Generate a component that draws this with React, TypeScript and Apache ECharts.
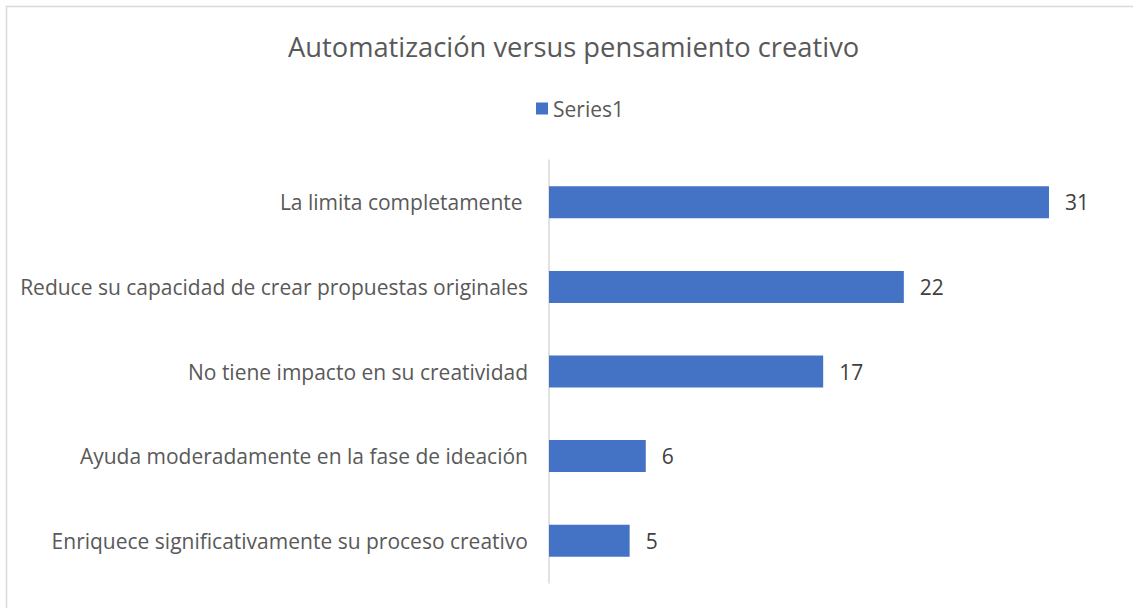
import React, { useEffect, useRef } from "react";
import * as echarts from "echarts";

const titleText = "Automatización versus pensamiento creativo";
const seriesName = "Series1";
const categories = [
  "La limita completamente ",
  "Reduce su capacidad de crear propuestas originales",
  "No tiene impacto en su creatividad",
  "Ayuda moderadamente en la fase de ideación",
  "Enriquece significativamente su proceso creativo",
];
const values = [31, 22, 17, 6, 5];

const FONT = "'Open Sans', 'Noto Sans', sans-serif";

export default function App() {
  const ref = useRef<HTMLDivElement>(null);
  useEffect(() => {
    document.body.style.margin = "0";
    const chart = echarts.init(ref.current!, undefined, { renderer: "svg" });
    chart.setOption({
      animation: false,
      backgroundColor: "#ffffff",
      title: {
        text: titleText,
        left: 283,
        top: 28,
        textStyle: { fontFamily: FONT, fontSize: 27.3, fontWeight: "normal", color: "#595959" },
      },
      legend: {
        data: [seriesName],
        top: 93,
        left: 531,
        itemWidth: 12,
        itemHeight: 12,
        itemGap: 6,
        icon: "rect",
        textStyle: { fontFamily: FONT, fontSize: 21, color: "#595959" },
      },
      graphic: [
        {
          type: "rect",
          shape: { x: 6.5, y: 6.5, width: 1200, height: 700 },
          style: { fill: "none", stroke: "#d9d9d9", lineWidth: 1.5 },
          silent: true,
        },
      ],
      grid: { left: 549, top: 160, bottom: 25, right: 19.5, containLabel: false },
      xAxis: {
        type: "value",
        min: 0,
        max: 35,
        show: false,
        splitLine: { show: false },
      },
      yAxis: {
        type: "category",
        data: categories,
        inverse: true,
        axisLine: { show: true, lineStyle: { color: "#d9d9d9", width: 1.5 } },
        axisTick: { show: false },
        axisLabel: { margin: 21, fontFamily: FONT, fontSize: 21, color: "#595959" },
      },
      series: [
        {
          name: seriesName,
          type: "bar",
          data: values,
          barWidth: 32,
          itemStyle: { color: "#4472C4" },
          label: {
            show: true,
            position: "right",
            distance: 16,
            fontFamily: FONT,
            fontSize: 21,
            color: "#404040",
          },
        },
      ],
    });
    return () => chart.dispose();
  }, []);
  return <div ref={ref} style={{ width: 1133, height: 608 }} />;
}
